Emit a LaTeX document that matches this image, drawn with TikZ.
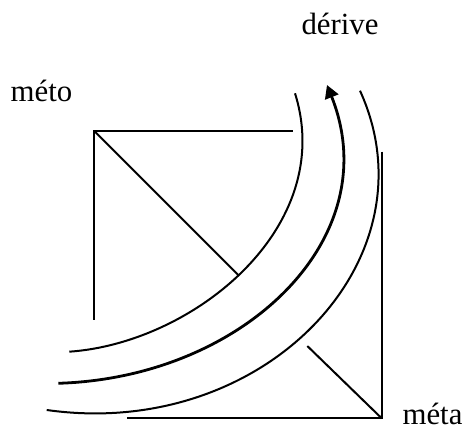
\documentclass[tikz,border=0pt]{standalone}
\usepackage{fontspec}
\setmainfont{Liberation Serif}
\usetikzlibrary{arrows.meta}

\begin{document}
\begin{tikzpicture}[
            x=0.5pt, y=0.5pt,
            word/.style={
                anchor=base,
                inner sep=0pt,
                font=\fontsize{15.4}{18}\selectfont
            },
            frame/.style={line width=1pt},
            band/.style={line width=1pt},
            flow/.style={line width=1.4pt, -{Triangle[length=6.5pt,width=7pt]}}
        ]

            \useasboundingbox (0,0) rectangle (468,434);

            \node[word] (derive) at (340,399) {dérive};
            \node[word] (meto) at (41.5,332.5) {méto};
            \node[word] (meta) at (432.5,9) {méta};

            % upper left angle
            \coordinate (meto corner) at (94.3,303);
            \draw[frame] (292.7,303) -- (meto corner) -- (94.3,114);
            \draw[frame] (meto corner) -- (238.3,159);

            % lower right angle
            \coordinate (meta corner) at (381.7,15.7);
            \draw[frame] (381.7,282.3) -- (meta corner) -- (127.3,15.7);
            \draw[frame] (307.3,88) -- (meta corner);

            % the three arcs
            \draw[band]
                (69.3,82.3) .. controls (194,91) and (337,207.1) .. (295,340.7);
            \draw[flow]
                (58.3,50.7) .. controls (243.2,56.25) and (388.05,195.55) .. (327,349);
            \draw[band]
                (46.7,24) .. controls (264.5,-6.8) and (436.8,174.9) .. (360,343.3);

        \end{tikzpicture}
\end{document}
